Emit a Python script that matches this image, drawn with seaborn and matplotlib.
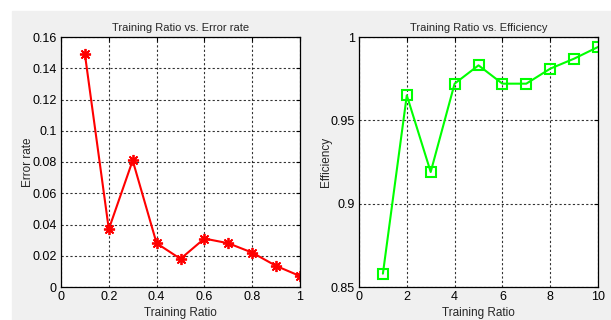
import numpy as np
import pandas as pd
import seaborn as sns
from matplotlib import pyplot as plt

# values
ratio = [0.1, 0.2, 0.3, 0.4, 0.5, 0.6, 0.7, 0.8, 0.9, 1.0]
error_rate = [0.149, 0.037, 0.081, 0.028, 0.018, 0.031, 0.028, 0.022, 0.0135, 0.007]
ratio_idx = [1, 2, 3, 4, 5, 6, 7, 8, 9, 10]
efficiency = [0.858, 0.965, 0.919, 0.972, 0.983, 0.972, 0.972, 0.981, 0.987, 0.994]

err = pd.DataFrame({'ratio': ratio, 'error': error_rate})
eff = pd.DataFrame({'ratio': ratio_idx, 'eff': efficiency})

sns.set_style('white')
plt.rcParams['font.family'] = ['Liberation Sans', 'DejaVu Sans']
plt.rcParams['font.size'] = 8

fig = plt.figure(figsize=(6.11, 3.20), dpi=100, facecolor='white')
# grey matlab-style panel
fig.patches.append(plt.Rectangle((12 / 611, 0), 1, 1 - 11 / 320,
                                 transform=fig.transFigure, color='#f0f0f0', zorder=-1))

ax1 = fig.add_axes([61 / 611, 1 - 287 / 320, 239 / 611, 250 / 320])
ax2 = fig.add_axes([359 / 611, 1 - 287 / 320, 239 / 611, 250 / 320])

sns.lineplot(data=err, x='ratio', y='error', ax=ax1, color='red', lw=1.5,
             marker=(8, 2, 0), markersize=8, markeredgewidth=1.3, markeredgecolor='red')
sns.lineplot(data=eff, x='ratio', y='eff', ax=ax2, color='#00ff00', lw=1.5,
             marker='s', markersize=6.5, markerfacecolor='none',
             markeredgewidth=1.5, markeredgecolor='#00ff00')

ax1.set_xlim(0, 1)
ax1.set_ylim(0, 0.16)
ax1.set_xticks([0, 0.2, 0.4, 0.6, 0.8, 1])
ax1.set_xticklabels(['0', '0.2', '0.4', '0.6', '0.8', '1'])
ax1.set_yticks(np.arange(0, 0.161, 0.02))
ax1.set_yticklabels(['0', '0.02', '0.04', '0.06', '0.08', '0.1', '0.12', '0.14', '0.16'])
ax1.set_title('Training Ratio vs. Error rate', fontsize=8, pad=4)
ax1.set_xlabel('Training Ratio', fontsize=8.5, labelpad=3)
ax1.set_ylabel('Error rate', fontsize=8.5, labelpad=-1)

ax2.set_xlim(0, 10)
ax2.set_ylim(0.85, 1)
ax2.set_xticks([0, 2, 4, 6, 8, 10])
ax2.set_yticks([0.85, 0.9, 0.95, 1])
ax2.set_yticklabels(['0.85', '0.9', '0.95', '1'])
ax2.set_title('Training Ratio vs. Efficiency', fontsize=8, pad=4)
ax2.set_xlabel('Training Ratio', fontsize=8.5, labelpad=3)
ax2.set_ylabel('Efficiency', fontsize=8.5, labelpad=-1)

for ax in (ax1, ax2):
    ax.set_facecolor('white')
    ax.grid(True, color='black', linestyle=(0, (2, 2)), linewidth=0.8, alpha=0.8)
    ax.set_axisbelow(True)
    ax.tick_params(direction='in', length=3, width=0.8, labelsize=9, pad=3,
                   top=True, right=True, colors='black')
    for s in ax.spines.values():
        s.set_color('black')
        s.set_linewidth(0.9)
        s.set_visible(True)

fig.savefig('out.png', dpi=100, facecolor=fig.get_facecolor())
